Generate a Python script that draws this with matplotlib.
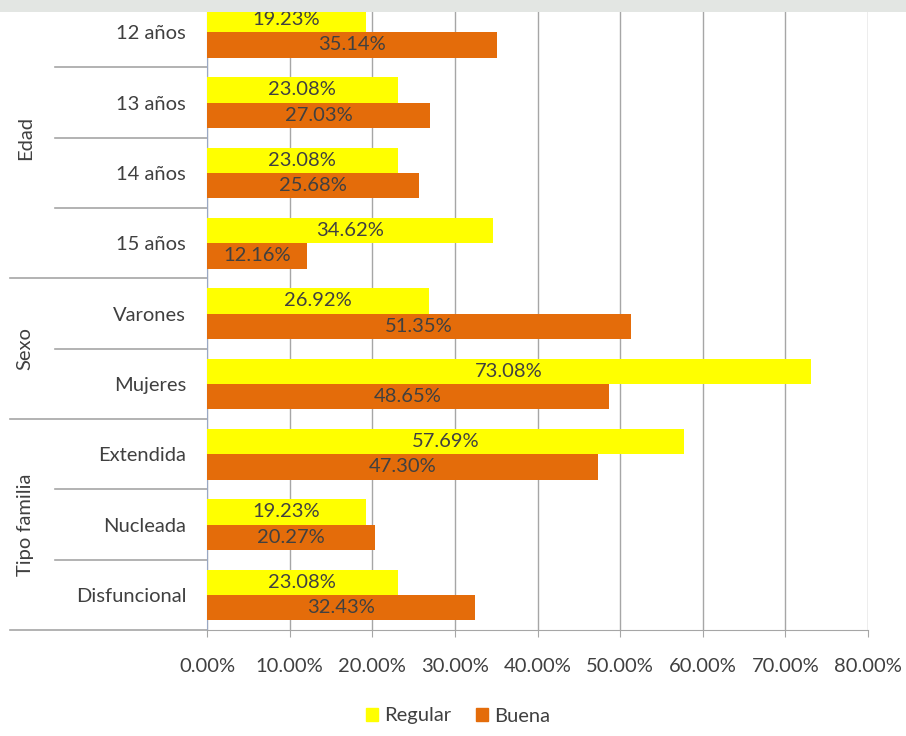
import matplotlib.pyplot as plt
import matplotlib.transforms as mtransforms
from matplotlib.patches import Rectangle, Patch

plt.rcParams['font.family'] = ['Lato', 'DejaVu Sans']

# datos
categorias = ['12 años', '13 años', '14 años', '15 años', 'Varones', 'Mujeres',
              'Extendida', 'Nucleada', 'Disfuncional']
regular = [19.23, 23.08, 23.08, 34.62, 26.92, 73.08, 57.69, 19.23, 23.08]
buena = [35.14, 27.03, 25.68, 12.16, 51.35, 48.65, 47.30, 20.27, 32.43]
grupos = ['Edad', 'Sexo', 'Tipo familia']
tamanos = [4, 2, 3]
ticks_x = [0, 10, 20, 30, 40, 50, 60, 70, 80]

c_reg = '#FFFF00'
c_bue = '#E46C0A'
c_txt = '#404040'
c_grid = '#a6a6a6'
fs = 14.5

fig = plt.figure(figsize=(9.06, 7.36), dpi=100)
ax = fig.add_axes([0.2285, 0.144, 0.7296, 0.86])

y = list(range(len(categorias)))
h = 0.36
y_reg = [v - h / 2 for v in y]
y_bue = [v + h / 2 for v in y]
b1 = ax.barh(y_reg, regular, height=h, color=c_reg, zorder=3)
b2 = ax.barh(y_bue, buena, height=h, color=c_bue, zorder=3)

for barras, vals in ((b1, regular), (b2, buena)):
    for r, v in zip(barras, vals):
        ax.text(r.get_x() + r.get_width() / 2, r.get_y() + r.get_height() / 2,
                f'{v:.2f}%', ha='center', va='center', fontsize=fs,
                color=c_txt, zorder=4)

ax.set_xlim(0, 80)
ax.set_ylim(len(categorias) - 0.5, -0.5)
ax.set_xticks(ticks_x)
ax.set_xticklabels([f'{t:.2f}%' for t in ticks_x], fontsize=fs, color=c_txt)
ax.xaxis.grid(True, color=c_grid, lw=1, zorder=0)
ax.set_axisbelow(True)
ax.tick_params(axis='x', length=5, color=c_grid, pad=15)
ax.set_yticks(y)
ax.set_yticklabels(categorias, fontsize=fs, color=c_txt)
ax.tick_params(axis='y', length=0, pad=15)

for s in ('top', 'right'):
    ax.spines[s].set_visible(False)
ax.spines['bottom'].set_color(c_grid)
ax.spines['left'].set_color('#9aa8c4')

# separadores de categorías y grupos
tr = mtransforms.blended_transform_factory(ax.transAxes, ax.transData)
fin_grupo = []
acc = 0
for n in tamanos:
    acc += n
    fin_grupo.append(acc - 0.5)
for i in range(len(categorias)):
    b = i + 0.5
    x0 = -0.298 if b in fin_grupo else -0.23
    ax.plot([x0, 0], [b, b], transform=tr, color=c_grid, lw=1.2, clip_on=False)

inicio = 0
for g, n in zip(grupos, tamanos):
    ax.text(-0.275, inicio + (n - 1) / 2, g, transform=tr, rotation=90,
            ha='center', va='center', fontsize=fs, color=c_txt)
    inicio += n

# franja superior (marca de agua)
fig.patches.append(Rectangle((0, 1 - 12 / 736), 1, 12 / 736, transform=fig.transFigure,
                             facecolor='#e3e6e3', edgecolor='none', zorder=10))

fig.legend(handles=[Patch(color=c_reg, label='Regular'), Patch(color=c_bue, label='Buena')],
           loc='center', bbox_to_anchor=(458 / 906, 1 - 716 / 736), ncol=2,
           frameon=False, fontsize=fs, handlelength=0.6, handleheight=0.6,
           handletextpad=0.3, columnspacing=1.2, labelcolor=c_txt)

fig.savefig('out.png', dpi=100, facecolor='white')
